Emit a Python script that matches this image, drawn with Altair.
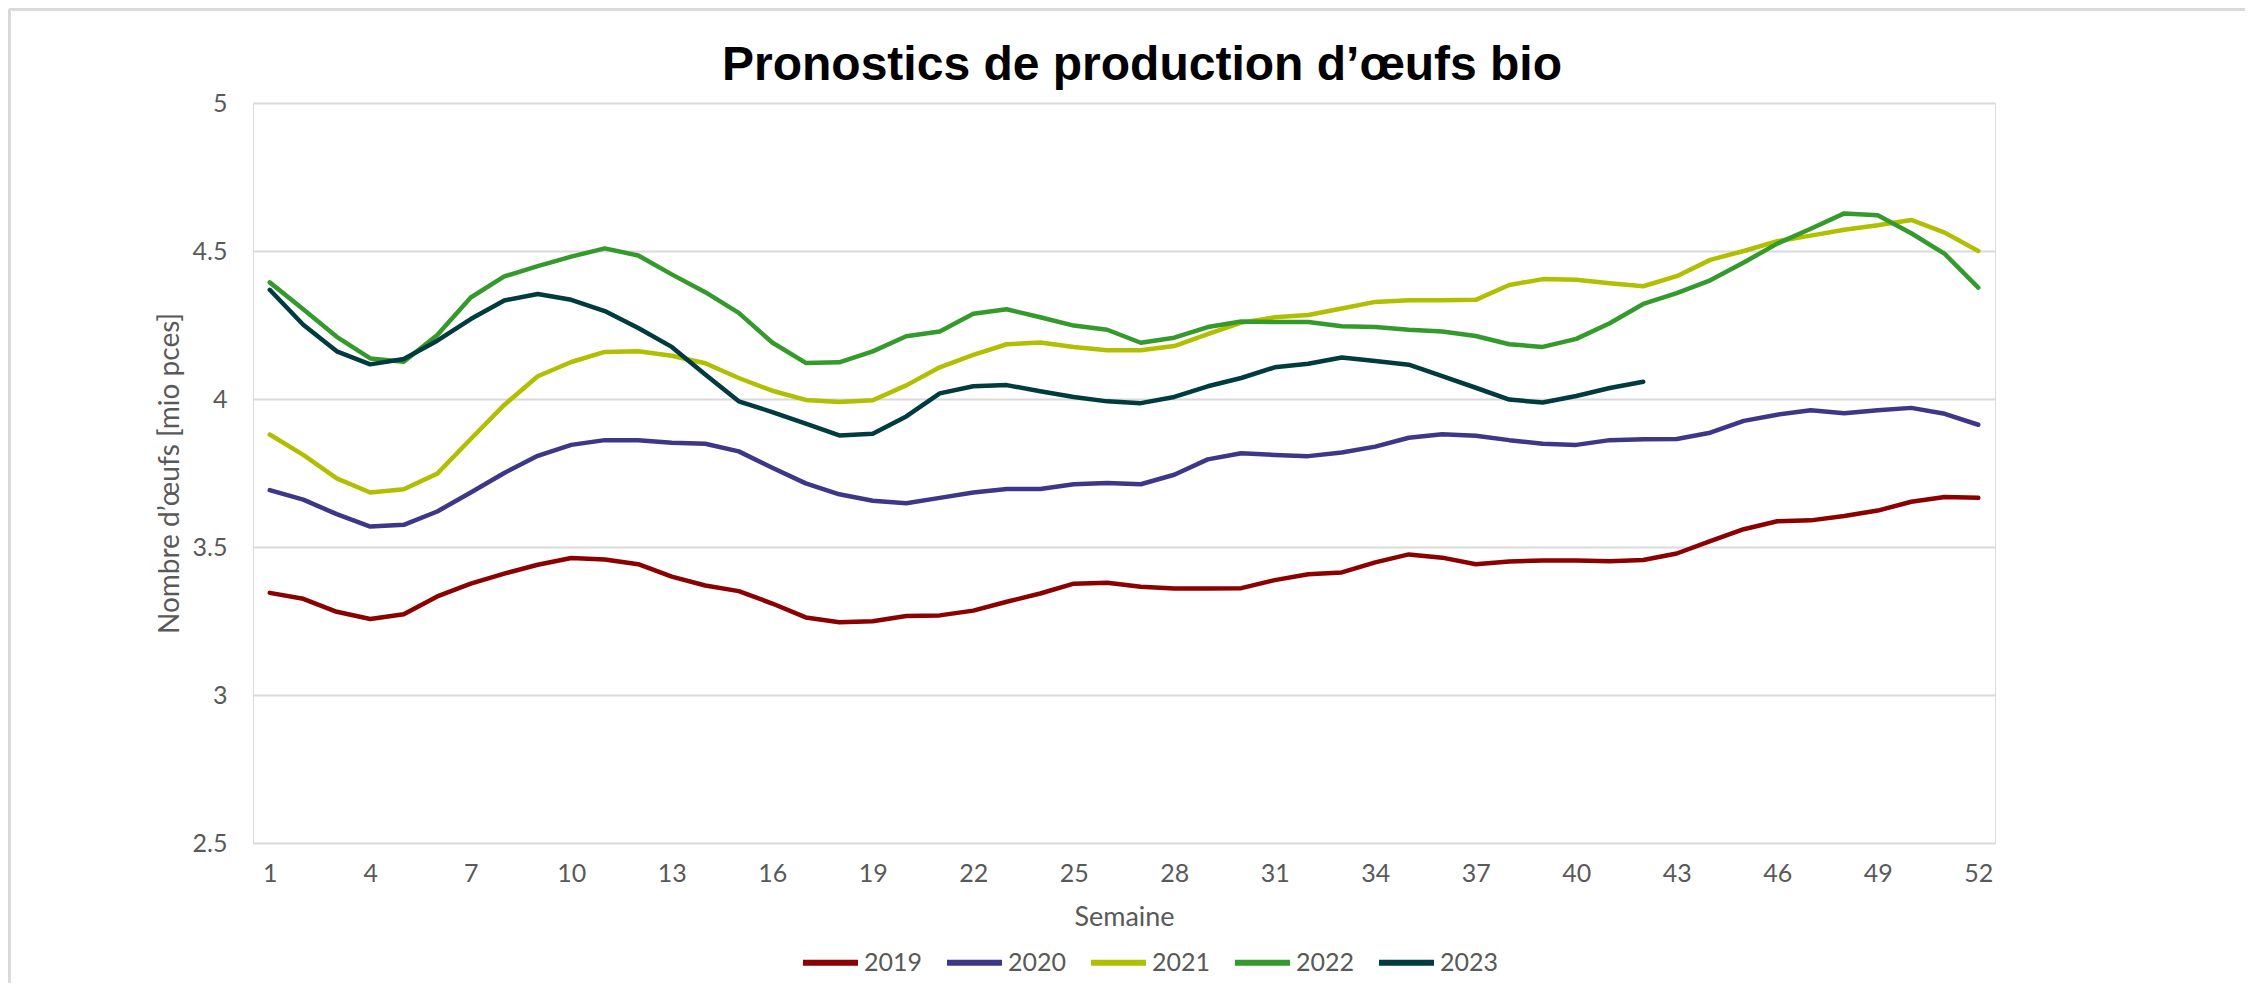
import altair as alt
import pandas as pd

weeks = list(range(1, 53))
years = ["2019", "2020", "2021", "2022", "2023"]
colors = ["#8B0000", "#3D3788", "#B0BF00", "#359A2C", "#003B3F"]

v2019 = [3.345, 3.325, 3.281, 3.257, 3.273, 3.333, 3.376, 3.410, 3.440, 3.463,
         3.458, 3.442, 3.400, 3.370, 3.351, 3.309, 3.262, 3.246, 3.249, 3.267,
         3.269, 3.285, 3.315, 3.343, 3.376, 3.379, 3.366, 3.360, 3.360, 3.361,
         3.388, 3.408, 3.414, 3.448, 3.475, 3.464, 3.442, 3.451, 3.454, 3.454,
         3.452, 3.456, 3.478, 3.520, 3.560, 3.587, 3.590, 3.605, 3.623, 3.653,
         3.669, 3.666]
v2020 = [3.692, 3.660, 3.611, 3.569, 3.575, 3.620, 3.684, 3.750, 3.808, 3.845,
         3.861, 3.861, 3.852, 3.849, 3.823, 3.768, 3.715, 3.678, 3.656, 3.648,
         3.666, 3.684, 3.696, 3.696, 3.712, 3.716, 3.712, 3.744, 3.796, 3.817,
         3.811, 3.807, 3.819, 3.839, 3.869, 3.881, 3.876, 3.861, 3.849, 3.845,
         3.861, 3.864, 3.865, 3.886, 3.926, 3.947, 3.962, 3.952, 3.962, 3.970,
         3.950, 3.913]
v2021 = [3.880, 3.811, 3.732, 3.684, 3.695, 3.748, 3.865, 3.980, 4.077, 4.125,
         4.159, 4.161, 4.146, 4.121, 4.071, 4.028, 3.997, 3.990, 3.996, 4.046,
         4.107, 4.149, 4.185, 4.191, 4.176, 4.165, 4.165, 4.179, 4.219, 4.258,
         4.276, 4.284, 4.306, 4.328, 4.334, 4.334, 4.335, 4.385, 4.405, 4.403,
         4.391, 4.381, 4.415, 4.470, 4.500, 4.533, 4.552, 4.572, 4.587, 4.605,
         4.562, 4.500]
v2022 = [4.394, 4.303, 4.210, 4.137, 4.126, 4.216, 4.343, 4.414, 4.449, 4.481,
         4.509, 4.485, 4.421, 4.361, 4.291, 4.191, 4.122, 4.124, 4.161, 4.212,
         4.228, 4.288, 4.303, 4.276, 4.248, 4.234, 4.190, 4.207, 4.243, 4.262,
         4.260, 4.260, 4.246, 4.243, 4.234, 4.228, 4.213, 4.185, 4.176, 4.203,
         4.256, 4.321, 4.358, 4.401, 4.461, 4.525, 4.575, 4.627, 4.621, 4.560,
         4.490, 4.376]
v2023 = [4.369, 4.251, 4.161, 4.117, 4.135, 4.197, 4.270, 4.333, 4.355, 4.335,
         4.297, 4.240, 4.176, 4.083, 3.992, 3.956, 3.917, 3.877, 3.883, 3.941,
         4.019, 4.043, 4.047, 4.026, 4.007, 3.992, 3.986, 4.007, 4.043, 4.071,
         4.107, 4.119, 4.140, 4.128, 4.116, 4.077, 4.038, 3.998, 3.988, 4.010,
         4.037, 4.058]

x_ticks = [1, 4, 7, 10, 13, 16, 19, 22, 25, 28, 31, 34, 37, 40, 43, 46, 49, 52]
y_ticks = [2.5, 3, 3.5, 4, 4.5, 5]

series = [v2019, v2020, v2021, v2022, v2023]
rows = []
for yr, vals in zip(years, series):
    for w, v in zip(weeks, vals):
        rows.append({"Semaine": w, "Valeur": v, "Année": yr})
df = pd.DataFrame(rows)

FONT = "Lato"
GRAY = "#595959"
W, H = 1742, 740

lines = alt.Chart(df).mark_line(strokeWidth=4.5, strokeCap="round", strokeJoin="round").encode(
    x=alt.X("Semaine:Q",
            scale=alt.Scale(domain=[0.5, 52.5], nice=False, zero=False),
            axis=alt.Axis(values=x_ticks, grid=False, domain=False, ticks=False,
                          labelFont=FONT, labelFontSize=25, labelColor=GRAY,
                          labelPadding=18, title="Semaine", titleFont=FONT,
                          titleFontSize=27, titleFontWeight="normal", titleColor=GRAY,
                          titleY=74, titleBaseline="middle")),
    y=alt.Y("Valeur:Q",
            scale=alt.Scale(domain=[2.5, 5], nice=False, zero=False),
            axis=alt.Axis(values=y_ticks, format="~g", grid=True, gridColor="#d9d9d9",
                          gridWidth=2, domain=False, ticks=False,
                          labelFont=FONT, labelFontSize=25, labelColor=GRAY,
                          labelPadding=26, title="Nombre d\u2019\u0153ufs [mio pces]",
                          titleFont=FONT, titleFontSize=28, titleFontWeight="normal",
                          titleColor=GRAY, titleX=-83, titleY=H / 2,
                          titleBaseline="middle", titleAlign="center", titleAngle=270)),
    color=alt.Color("Année:N",
                    scale=alt.Scale(domain=years, range=colors),
                    legend=alt.Legend(orient="none", legendX=547, legendY=829,
                                      direction="horizontal", title=None,
                                      symbolType="stroke", symbolSize=3025,
                                      symbolStrokeWidth=6, labelFont=FONT,
                                      labelFontSize=25, labelColor=GRAY,
                                      labelOffset=3, columnPadding=12, padding=0)),
    order=alt.Order("Semaine:Q"),
)

border_left = alt.Chart(df).mark_rule(color="#d9d9d9", strokeWidth=2.5).encode(
    x=alt.value(-244), y=alt.value(-94), y2=alt.value(H + 140))
border_top = alt.Chart(df).mark_rule(color="#d9d9d9", strokeWidth=2.5).encode(
    x=alt.value(-244), x2=alt.value(W + 250), y=alt.value(-94))

chart = alt.layer(border_left, border_top, lines).properties(
    width=W, height=H,
    padding={"left": 245, "top": 95, "right": 250, "bottom": 140},
    autosize=alt.AutoSizeParams(type="none"),
    title=alt.TitleParams("Pronostics de production d\u2019\u0153ufs bio",
                          font="Liberation Sans", fontSize=48, fontWeight="bold",
                          color="black", anchor="middle", frame="group", dx=18,
                          dy=148, offset=28, baseline="alphabetic"),
).configure_view(stroke=None).configure(background="white")

chart.save("out.html", embed_options={"renderer": "svg", "actions": False})
